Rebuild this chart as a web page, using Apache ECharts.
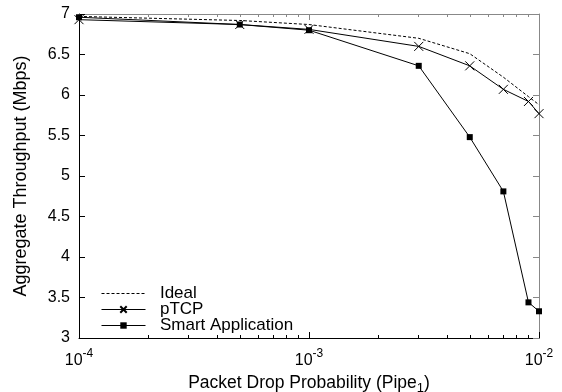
<!DOCTYPE html>
<html><head><meta charset="utf-8">
<script src="https://cdn.jsdelivr.net/npm/echarts@6/dist/echarts.min.js"></script>
<style>html,body{margin:0;padding:0;background:#fff}#c{width:562px;height:392px}</style>
</head><body><div id="c"></div>
<script>
const dropProb = [1e-4, 5e-4, 1e-3, 3e-3, 5e-3, 7e-3, 9e-3, 1e-2];
const ideal = [6.97, 6.92, 6.87, 6.70, 6.51, 6.22, 5.98, 5.88];
const ptcp = [6.93, 6.87, 6.81, 6.60, 6.36, 6.07, 5.92, 5.77];
const smart = [6.96, 6.87, 6.80, 6.36, 5.48, 4.81, 3.44, 3.33];
const yTicks = [3, 3.5, 4, 4.5, 5, 5.5, 6, 6.5, 7];
const xDecades = [-4, -3, -2];
const seriesNames = ['Ideal', 'pTCP', 'Smart Application'];

const minorTicks = [];
for (let e = -4; e < -2; e++) for (let k = 2; k <= 9; k++) minorTicks.push(Math.log10(k * Math.pow(10, e)));

const toXY = (vals) => dropProb.map((p, i) => [Math.log10(p), vals[i]]);
const font = 'Liberation Sans, Arial, Helvetica, sans-serif';
const gridCfg = {left: 79, right: 23, top: 14, bottom: 54, containLabel: false, outerBoundsMode: 'none'};

const baseX = {type: 'value', min: -4, max: -2, interval: 1, splitLine: {show: false}};
const chart = echarts.init(document.getElementById('c'));
chart.setOption({
  animation: false,
  grid: gridCfg,
  legend: {
    orient: 'vertical', left: 101, top: 285, itemWidth: 44, itemHeight: 8, itemGap: -1, padding: 0,
    data: [
      {name: seriesNames[0], itemStyle: {opacity: 0}, lineStyle: {width: 1, type: [3, 2]}},
      {name: seriesNames[1], lineStyle: {width: 1}},
      {name: seriesNames[2], lineStyle: {width: 1}}
    ],
    formatter: n => '  ' + n,
    textStyle: {fontFamily: font, fontSize: 17, color: '#000', lineHeight: 15}
  },
  xAxis: [
    Object.assign({}, baseX, {
      position: 'bottom',
      name: 'Packet Drop Probability (Pipe{sub|1})', nameLocation: 'middle', nameGap: 31,
      nameTextStyle: {fontFamily: font, fontSize: 17.5, color: '#000', rich: {sub: {fontFamily: font, fontSize: 13, padding: [11, 0, 0, 0], color: '#000'}}},
      axisLine: {lineStyle: {color: '#000', width: 1}},
      axisTick: {inside: true, length: 6, lineStyle: {color: '#000'}, customValues: xDecades},
      axisLabel: {
        margin: 7, customValues: xDecades,
        formatter: v => '{b|10}{s|' + v + '}',
        rich: {b: {fontFamily: font, fontSize: 16, color: '#000', padding: [8, 0, 0, 0]}, s: {fontFamily: font, fontSize: 12, color: '#000', padding: [0, 0, 6, 0]}}
      }
    }),
    Object.assign({}, baseX, {position: 'bottom', axisLine: {show: false}, axisLabel: {show: false},
      axisTick: {inside: true, length: 3, lineStyle: {color: '#000'}, customValues: minorTicks}}),
    Object.assign({}, baseX, {position: 'top', axisLine: {lineStyle: {color: '#888'}}, axisLabel: {show: false},
      axisTick: {inside: true, length: 6, lineStyle: {color: '#888'}, customValues: xDecades}}),
    Object.assign({}, baseX, {position: 'top', axisLine: {show: false}, axisLabel: {show: false},
      axisTick: {inside: true, length: 3, lineStyle: {color: '#888'}, customValues: minorTicks}})
  ],
  yAxis: [
    {type: 'value', min: 3, max: 7, interval: 0.5, position: 'left',
      name: 'Aggregate Throughput (Mbps)', nameLocation: 'middle', nameGap: 49,
      nameTextStyle: {fontFamily: font, fontSize: 18, color: '#000'},
      splitLine: {show: false},
      axisLine: {show: true, lineStyle: {color: '#000'}},
      axisTick: {show: true, inside: true, length: 6, lineStyle: {color: '#000'}},
      axisLabel: {fontFamily: font, fontSize: 16, color: '#000', margin: 9, customValues: yTicks, formatter: v => String(v)}},
    {type: 'value', min: 3, max: 7, interval: 0.5, position: 'right',
      splitLine: {show: false},
      axisLine: {show: true, lineStyle: {color: '#888'}},
      axisTick: {show: true, inside: true, length: 6, lineStyle: {color: '#888'}},
      axisLabel: {show: false}}
  ],
  series: [
    {name: seriesNames[0], type: 'line', data: toXY(ideal), showSymbol: false, symbol: 'none',
      lineStyle: {color: '#000', width: 1, type: [3, 2]}, itemStyle: {color: '#000'}},
    {name: seriesNames[1], type: 'line', data: toXY(ptcp), symbol: 'path://M0,0L10,10M10,0L0,10', symbolSize: 9,
      lineStyle: {color: '#000', width: 1}, itemStyle: {color: 'none', borderColor: '#000', borderWidth: 1}},
    {name: seriesNames[2], type: 'line', data: toXY(smart), symbol: 'rect', symbolSize: 6,
      lineStyle: {color: '#000', width: 1}, itemStyle: {color: '#000'}}
  ]
});
</script></body></html>
